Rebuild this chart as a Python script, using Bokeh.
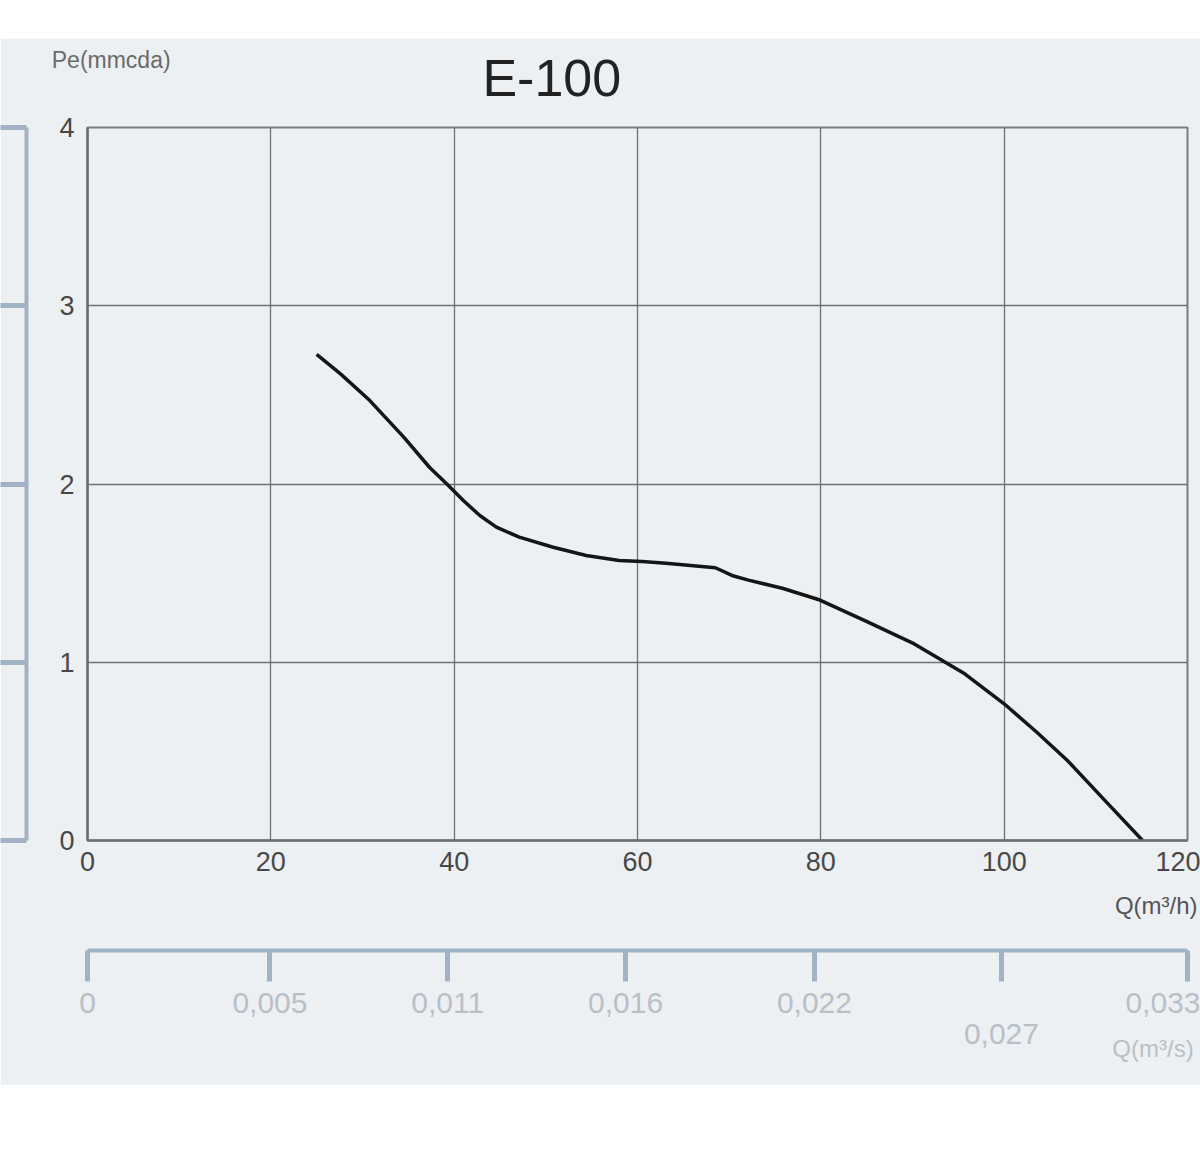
from bokeh.plotting import figure
from bokeh.models import Range1d, LinearAxis, FixedTicker, Label, Spacer
from bokeh.layouts import column
from bokeh.embed import file_html
from bokeh.resources import INLINE

# ---- data ----
q_m3h = [25.0, 27.6, 30.8, 34.5, 37.3, 39.2, 41.0, 42.8, 44.6, 47.1, 50.8, 54.4,
         58.0, 60.5, 63.1, 68.5, 70.3, 72.1, 75.8, 79.9, 84.8, 90.2, 95.7, 100.0,
         103.5, 106.9, 110.8, 115.1]
pe_mmcda = [2.727, 2.618, 2.468, 2.263, 2.094, 2.0, 1.907, 1.823, 1.758, 1.702,
            1.645, 1.599, 1.571, 1.565, 1.556, 1.530, 1.487, 1.461, 1.415, 1.349,
            1.234, 1.103, 0.935, 0.767, 0.61, 0.449, 0.235, 0.0]
x_ticks = [0, 20, 40, 60, 80, 100, 120]
y_ticks = [0, 1, 2, 3, 4]
sec_tick_q = [0, 19.9, 39.3, 58.7, 79.3, 99.7, 120]
sec_tick_labels = ["0", "0,005", "0,011", "0,016", "0,022", "\n0,027", "0,033"]
title_text = "E-100"
y_label_text = "Pe(mmcda)"
x_label_text = "Q(m³/h)"
x2_label_text = "Q(m³/s)"

BG = "#edf0f3"
FRAME = "#6f6f6f"
GRID = "#707070"
BRACKET = "#a2b2c5"
SEC_TXT = "#b9bfc7"
FONT = "Liberation Sans"

p = figure(width=1200, height=1047, x_range=Range1d(0, 120), y_range=Range1d(0, 4),
           output_backend="svg", toolbar_location=None,
           min_border_left=83, min_border_right=13, min_border_top=89,
           min_border_bottom=245, background_fill_color=BG, border_fill_color=BG)
p.title.visible = False

# grid
p.xgrid.ticker = FixedTicker(ticks=x_ticks)
p.ygrid.ticker = FixedTicker(ticks=y_ticks)
for g in (p.xgrid[0], p.ygrid[0]):
    g.grid_line_color = GRID
    g.grid_line_width = 1.3
p.outline_line_color = "#7c7c7c"
p.outline_line_width = 2

def style_main(ax, ticks):
    ax.ticker = FixedTicker(ticks=ticks)
    ax.major_tick_out = 0
    ax.major_tick_in = 0
    ax.minor_tick_out = 0
    ax.minor_tick_in = 0
    ax.axis_line_color = FRAME
    ax.axis_line_width = 2.5
    ax.major_label_text_font = FONT
    ax.major_label_text_font_size = "27px"
    ax.major_label_text_color = "#484848"

xa = p.xaxis[0]
style_main(xa, x_ticks)
xa.major_label_standoff = 11
ya = p.yaxis[0]
style_main(ya, y_ticks)
ya.major_label_standoff = 13

# invisible spacer axes (ticks in background colour) to push the outer scales out
def spacer_axis(size):
    return LinearAxis(ticker=FixedTicker(ticks=[0]), major_tick_out=size, major_tick_in=0,
                      minor_tick_out=0, minor_tick_in=0, axis_line_color=BG,
                      axis_line_width=1, major_tick_line_color=BG, major_tick_line_width=1,
                      major_label_text_font_size="0px", major_label_text_color=None,
                      major_label_standoff=0)

def text_label(x, y, text, size, color, align):
    return Label(x=x, y=y, text=text, text_align=align, text_baseline="middle",
                 text_font=FONT, text_font_size=size, text_color=color)

# left side: spacer, then the bracket scale
p.add_layout(spacer_axis(30), "left")
bracket = LinearAxis(ticker=FixedTicker(ticks=y_ticks), major_tick_out=26, major_tick_in=0,
                     minor_tick_out=0, minor_tick_in=0, axis_line_color=BRACKET,
                     axis_line_width=4, major_tick_line_color=BRACKET, major_tick_line_width=5,
                     major_label_text_font_size="0px", major_label_text_color=None,
                     major_label_standoff=0)
p.add_layout(bracket, "left")

# top side texts (placed in the side panel so they are not clipped to the frame)
p.add_layout(text_label(50.65, 4.28, title_text, "52px", "#222222", "center"), "above")
p.add_layout(text_label(-3.9, 4.376, y_label_text, "23px", "#6a6a6a", "left"), "above")

# bottom side: unit label, spacer, secondary scale, its unit label
p.add_layout(text_label(121.1, -0.365, x_label_text, "24px", "#555555", "right"), "below")
p.add_layout(spacer_axis(50), "below")
sec = LinearAxis(ticker=FixedTicker(ticks=sec_tick_q),
                 major_label_overrides=dict(zip(sec_tick_q, sec_tick_labels)),
                 major_tick_out=31, major_tick_in=0, minor_tick_out=0, minor_tick_in=0,
                 axis_line_color=BRACKET, axis_line_width=4,
                 major_tick_line_color=BRACKET, major_tick_line_width=5,
                 major_label_standoff=4, major_label_text_font=FONT,
                 major_label_text_font_size="30px", major_label_text_color=SEC_TXT,
                 major_label_text_line_height=0.95)
p.add_layout(sec, "below")
p.add_layout(text_label(111.8, -1.167, x2_label_text, "24px", SEC_TXT, "left"), "below")

# curve
p.line(q_m3h, pe_mmcda, line_width=3.5, line_color="#151515", line_join="round")

layout = column(Spacer(width=1200, height=38), p)
open("out.html", "w").write(file_html(layout, INLINE))
